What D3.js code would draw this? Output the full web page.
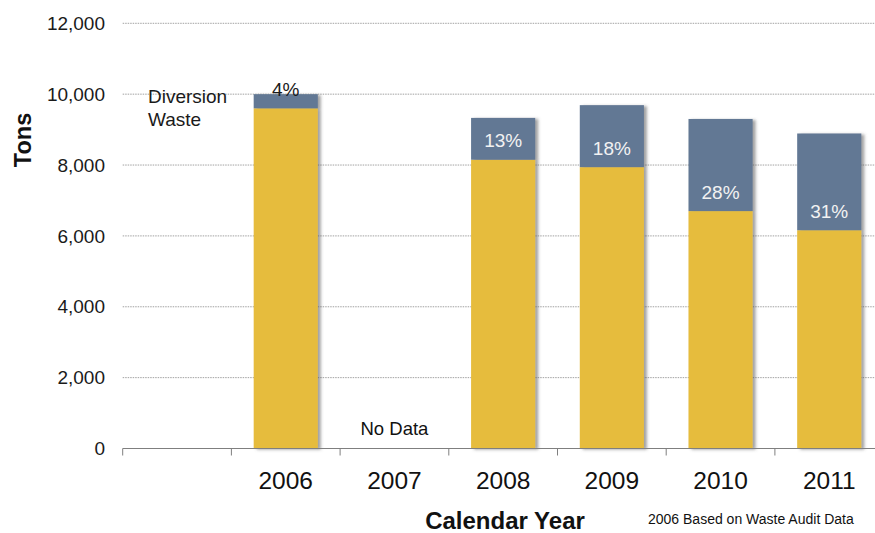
<!DOCTYPE html>
<html>
<head>
<meta charset="utf-8">
<script src="https://cdn.jsdelivr.net/npm/d3@7"></script>
<style>
  body { margin: 0; background: #fff; }
  svg { display: block; font-family: "Liberation Sans", Arial, sans-serif; }
</style>
</head>
<body>
<div id="chart"></div>
<script>
// slots along the x axis (first slot is an empty one)
const slots = ["", "2006", "2007", "2008", "2009", "2010", "2011"]
const years = ["2006", "2008", "2009", "2010", "2011"]
const wasteTons = [9600, 8150, 7940, 6700, 6160]
const diversionTons = [400, 1180, 1750, 2600, 2730]
const pctLabels = ["4%", "13%", "18%", "28%", "31%"]
const yTicks = [0, 2000, 4000, 6000, 8000, 10000, 12000]

const width = 875, height = 533
const plotLeft = 122.7, plotBottom = 448.5, plotTop = 23.3
const step = 108.7

const svg = d3.select("#chart").append("svg")
  .attr("width", width)
  .attr("height", height)

const defs = svg.append("defs")
const shadow = defs.append("filter").attr("id", "shadow")
  .attr("x", "-10%").attr("y", "-10%").attr("width", "130%").attr("height", "120%")
shadow.append("feDropShadow")
  .attr("dx", 3).attr("dy", 1).attr("stdDeviation", 1.5)
  .attr("flood-color", "#555").attr("flood-opacity", 0.55)

const x = d3.scaleBand().domain(slots).range([plotLeft, plotLeft + step * slots.length]).padding(0)
const y = d3.scaleLinear().domain([0, 12000]).range([plotBottom, plotTop])

// gridlines
svg.append("g")
  .selectAll("line")
  .data(yTicks.filter(d => d > 0))
  .join("line")
    .attr("x1", plotLeft).attr("x2", width)
    .attr("y1", d => y(d)).attr("y2", d => y(d))
    .attr("stroke", "#8a8a8a")
    .attr("stroke-width", 0.8)
    .attr("stroke-dasharray", "1.5,1")

// y tick labels
svg.append("g")
  .selectAll("text")
  .data(yTicks)
  .join("text")
    .attr("x", 105)
    .attr("y", d => y(d))
    .attr("dy", "0.35em")
    .attr("text-anchor", "end")
    .attr("font-size", 19)
    .attr("fill", "#1a1a1a")
    .text(d => d3.format(",")(d))

// bars
const rows = years.map((yr, i) => ({year: yr, waste: wasteTons[i], div: diversionTons[i], label: pctLabels[i]}))
const barW = x.bandwidth() * 0.59
const barX = d => x(d.year) + (x.bandwidth() - barW) / 2

const bars = svg.append("g")
  .selectAll("g")
  .data(rows)
  .join("g")
    .attr("filter", "url(#shadow)")

bars.append("rect")
  .attr("x", barX)
  .attr("width", barW)
  .attr("y", d => y(d.waste))
  .attr("height", d => y(0) - y(d.waste))
  .attr("fill", "#e6bc3c")

bars.append("rect")
  .attr("x", barX)
  .attr("width", barW)
  .attr("y", d => y(d.waste + d.div))
  .attr("height", d => y(d.waste) - y(d.waste + d.div))
  .attr("fill", "#627894")

// percentage labels
svg.append("g")
  .selectAll("text")
  .data(rows)
  .join("text")
    .attr("x", d => barX(d) + barW / 2)
    .attr("y", d => y(d.waste) - 19)
    .attr("dy", "0.35em")
    .attr("text-anchor", "middle")
    .attr("font-size", 19)
    .attr("fill", (d, i) => i === 0 ? "#1a1a1a" : "#f2f2f2")
    .text(d => d.label)

// x axis
const xAxis = svg.append("g")
xAxis.append("line")
  .attr("x1", plotLeft).attr("x2", width)
  .attr("y1", plotBottom).attr("y2", plotBottom)
  .attr("stroke", "#7f7f7f").attr("stroke-width", 1)
xAxis.selectAll(".tick")
  .data(slots)
  .join("line")
    .attr("class", "tick")
    .attr("x1", d => x(d)).attr("x2", d => x(d))
    .attr("y1", plotBottom).attr("y2", plotBottom + 7)
    .attr("stroke", "#7f7f7f").attr("stroke-width", 1)
xAxis.selectAll("text")
  .data(slots)
  .join("text")
    .attr("x", d => x(d) + x.bandwidth() / 2)
    .attr("y", 480)
    .attr("dy", "0.35em")
    .attr("text-anchor", "middle")
    .attr("font-size", 24.5)
    .attr("fill", "#111")
    .text(d => d)

// titles and notes
svg.append("text")
  .attr("transform", "translate(23,140) rotate(-90)")
  .attr("dy", "0.35em")
  .attr("text-anchor", "middle")
  .attr("font-size", 23.5)
  .attr("font-weight", "bold")
  .attr("fill", "#111")
  .text("Tons")

svg.append("text")
  .attr("x", 505).attr("y", 529)
  .attr("text-anchor", "middle")
  .attr("font-size", 24)
  .attr("font-weight", "bold")
  .attr("fill", "#111")
  .text("Calendar Year")

svg.append("text")
  .attr("x", 648).attr("y", 519)
  .attr("dy", "0.35em")
  .attr("font-size", 14)
  .attr("fill", "#111")
  .text("2006 Based on Waste Audit Data")

svg.append("text")
  .attr("x", x("2007") + x.bandwidth() / 2).attr("y", 429)
  .attr("dy", "0.35em")
  .attr("text-anchor", "middle")
  .attr("font-size", 18.5)
  .attr("fill", "#111")
  .text("No Data")

const legend = svg.append("text")
  .attr("x", 148).attr("y", 96)
  .attr("font-size", 19)
  .attr("fill", "#1a1a1a")
legend.append("tspan").attr("x", 148).attr("dy", "0.35em").text("Diversion")
legend.append("tspan").attr("x", 148).attr("dy", "1.25em").text("Waste")
</script>
</body>
</html>
